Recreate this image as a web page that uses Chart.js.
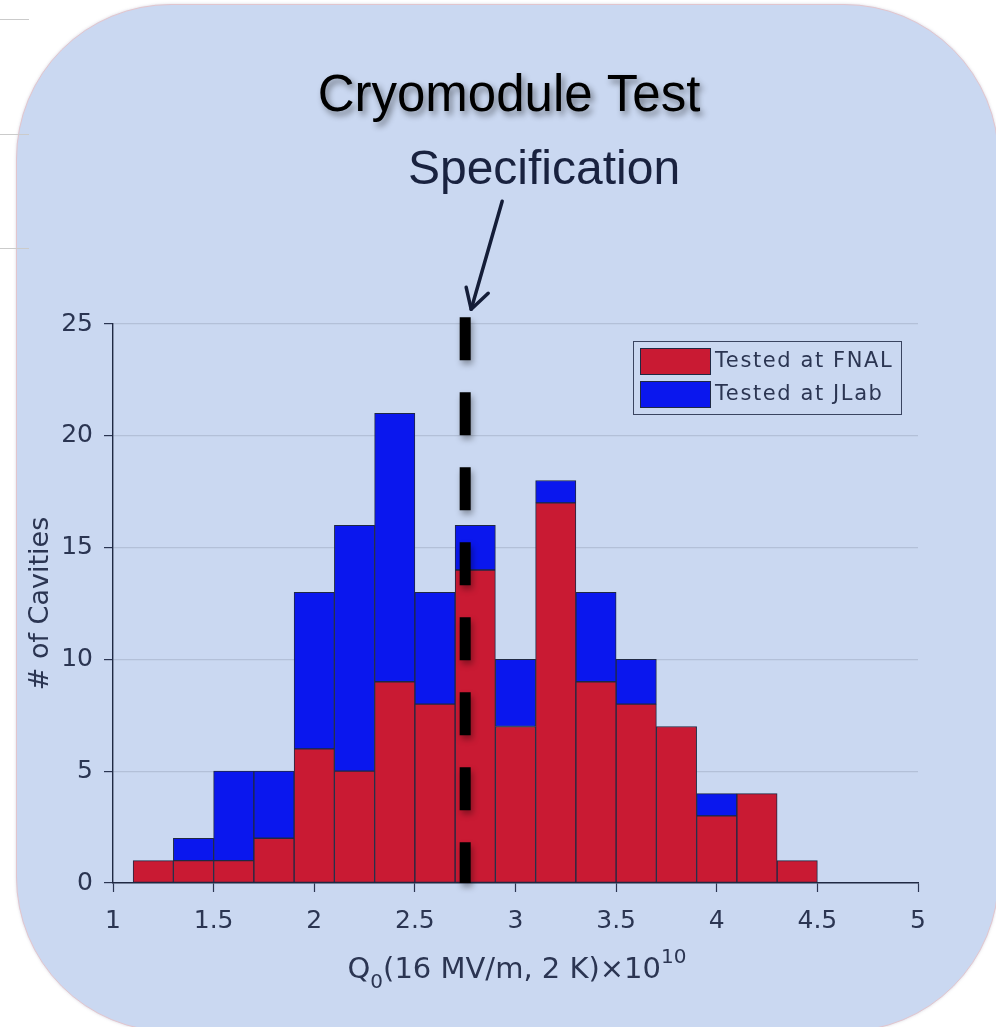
<!DOCTYPE html>
<html>
<head>
<meta charset="utf-8">
<script src="https://cdn.jsdelivr.net/npm/chart.js@4/dist/chart.umd.min.js"></script>
<style>
html,body{margin:0;padding:0;background:#ffffff;width:996px;height:1027px;overflow:hidden;}
#panel{position:absolute;left:16px;top:4px;width:981px;height:1026px;background:#cad8f1;border:1px solid #e2c5cd;border-radius:155px;box-shadow:0 0 3px rgba(140,140,170,0.35);}
.rule{position:absolute;left:0;width:29px;height:1px;background:#cbcbcb;}
#c{position:absolute;left:0;top:0;}
</style>
</head>
<body>
<div id="panel"></div>
<div class="rule" style="top:19px"></div>
<div class="rule" style="top:134px"></div>
<div class="rule" style="top:248px"></div>
<canvas id="c" width="996" height="1027"></canvas>
<script>
// ---- data ----
const binCenters = [1.2, 1.4, 1.6, 1.8, 2.0, 2.2, 2.4, 2.6, 2.8, 3.0, 3.2, 3.4, 3.6, 3.8, 4.0, 4.2, 4.4];
const fnalCounts = [1, 1, 1, 2, 6, 5, 9, 8, 14, 7, 17, 9, 8, 7, 3, 4, 1];
const jlabCounts = [0, 1, 4, 3, 7, 11, 12, 5, 2, 3, 1, 4, 2, 0, 1, 0, 0];
const xTickValues = [1, 1.5, 2, 2.5, 3, 3.5, 4, 4.5, 5];
const yTickValues = [0, 5, 10, 15, 20, 25];
const specValue = 2.75;
const specTop = 25.3;
const seriesLabels = ['Tested at FNAL', 'Tested at JLab'];
const titleText = 'Cryomodule Test';
const specText = 'Specification';
const yTitleText = '# of Cavities';

const RED = '#c91a33';
const BLUE = '#0a17ee';
const EDGE = '#1f2943';
const TXT = '#2b3552';
const FONT = '"DejaVu Sans", "Liberation Sans", sans-serif';

const decor = {
  id: 'decor',
  beforeDatasetDraw(chart, args) {
    if (args.meta.type === 'line') {
      const ctx = chart.ctx;
      ctx.save();
      ctx.shadowColor = 'rgba(0,0,0,0.35)';
      ctx.shadowBlur = 6;
      ctx.shadowOffsetX = 2;
      ctx.shadowOffsetY = 4;
    }
  },
  afterDatasetDraw(chart, args) {
    if (args.meta.type === 'line') chart.ctx.restore();
  },
  afterDraw(chart) {
    const ctx = chart.ctx;
    const xs = chart.scales.x, ys = chart.scales.y;
    const ca = chart.chartArea;

    // Title with shadow
    ctx.save();
    ctx.font = '51px "Liberation Sans", Arial, sans-serif';
    ctx.textAlign = 'center';
    ctx.textBaseline = 'alphabetic';
    ctx.shadowColor = 'rgba(0,0,0,0.45)';
    ctx.shadowBlur = 6;
    ctx.shadowOffsetX = 3;
    ctx.shadowOffsetY = 4;
    ctx.fillStyle = '#000';
    ctx.fillText(titleText, 509, 111);
    ctx.restore();

    // Specification label
    ctx.save();
    ctx.font = '48px "Liberation Sans", Arial, sans-serif';
    ctx.textAlign = 'center';
    ctx.fillStyle = '#19223f';
    ctx.fillText(specText, 544, 184);
    ctx.restore();

    // Arrow to the spec line
    const sx = xs.getPixelForValue(specValue);
    const tipY = ys.getPixelForValue(specTop) - 8;
    ctx.save();
    ctx.strokeStyle = '#141d38';
    ctx.lineWidth = 3.5;
    ctx.lineCap = 'round';
    ctx.lineJoin = 'round';
    ctx.beginPath();
    ctx.moveTo(sx + 37, tipY - 108);
    ctx.lineTo(sx + 6, tipY);
    ctx.stroke();
    ctx.beginPath();
    ctx.moveTo(sx + 1, tipY - 22);
    ctx.lineTo(sx + 6, tipY);
    ctx.lineTo(sx + 23, tipY - 16);
    ctx.stroke();
    ctx.restore();

    // Legend
    ctx.save();
    ctx.strokeStyle = '#3a4460';
    ctx.lineWidth = 1;
    ctx.strokeRect(633.5, 341.5, 268, 73);
    const bars = chart.data.datasets.filter(d => d.type !== 'line');
    bars.forEach((d, i) => {
      const y0 = 348 + i * 33;
      ctx.fillStyle = d.backgroundColor;
      ctx.fillRect(640, y0, 70, 26);
      ctx.strokeStyle = EDGE;
      ctx.strokeRect(640.5, y0 + 0.5, 70, 26);
      ctx.fillStyle = TXT;
      ctx.font = '21px ' + FONT;
      ctx.letterSpacing = '1.6px';
      ctx.textBaseline = 'middle';
      ctx.textAlign = 'left';
      ctx.fillText(d.label, 715, y0 + 14);
    });
    ctx.restore();

    // X axis title with sub/superscripts
    ctx.save();
    ctx.fillStyle = TXT;
    ctx.textBaseline = 'alphabetic';
    ctx.textAlign = 'left';
    const parts = [
      {t: 'Q', s: 29, dy: 0},
      {t: '0', s: 20, dy: 10},
      {t: '(16 MV/m, 2 K)', s: 29, dy: 0},
      {t: '\u00d7', s: 29, dy: 0},
      {t: '10', s: 29, dy: 0},
      {t: '10', s: 20, dy: -15}
    ];
    let total = 0;
    parts.forEach(p => { ctx.font = p.s + 'px ' + FONT; p.w = ctx.measureText(p.t).width; total += p.w; });
    let x = 517 - total / 2;
    const base = 978;
    parts.forEach(p => { ctx.font = p.s + 'px ' + FONT; ctx.fillText(p.t, x, base + p.dy); x += p.w; });
    ctx.restore();

    // Y axis title
    ctx.save();
    ctx.fillStyle = TXT;
    ctx.font = '27px ' + FONT;
    ctx.translate(41, (ca.top + ca.bottom) / 2);
    ctx.rotate(-Math.PI / 2);
    ctx.textAlign = 'center';
    ctx.textBaseline = 'middle';
    ctx.fillText(yTitleText, 0, 0);
    ctx.restore();
  }
};

new Chart(document.getElementById('c'), {
  type: 'bar',
  data: {
    datasets: [
      {
        label: seriesLabels[0],
        data: binCenters.map((x, i) => ({x: x, y: fnalCounts[i]})),
        backgroundColor: RED,
        borderColor: EDGE,
        borderWidth: 1,
        borderSkipped: false,
        barPercentage: 1,
        categoryPercentage: 1,
        order: 1
      },
      {
        label: seriesLabels[1],
        data: binCenters.map((x, i) => ({x: x, y: jlabCounts[i]})),
        backgroundColor: BLUE,
        borderColor: EDGE,
        borderWidth: 1,
        borderSkipped: false,
        barPercentage: 1,
        categoryPercentage: 1,
        order: 1
      },
      {
        type: 'line',
        label: 'spec',
        data: [{x: specValue, y: specTop}, {x: specValue, y: 0}],
        borderColor: '#000000',
        borderWidth: 11,
        borderDash: [43, 32],
        borderCapStyle: 'butt',
        pointRadius: 0,
        fill: false,
        tension: 0,
        clip: false,
        stack: 'spec',
        order: 0
      }
    ]
  },
  options: {
    responsive: false,
    animation: false,
    devicePixelRatio: 1,
    layout: {padding: {top: 324, right: 78, left: 0, bottom: 0}},
    plugins: {legend: {display: false}, tooltip: {enabled: false}},
    scales: {
      x: {
        type: 'linear',
        min: 1,
        max: 5,
        offset: false,
        stacked: true,
        afterBuildTicks: s => { s.ticks = xTickValues.map(v => ({value: v})); },
        afterFit: s => { s.height = 144; },
        ticks: {
          color: TXT,
          font: {family: 'DejaVu Sans', size: 25},
          padding: 14,
          maxRotation: 0,
          autoSkip: false,
          callback: v => String(v)
        },
        grid: {drawOnChartArea: false, offset: false, tickLength: 9, tickColor: TXT, tickWidth: 1.2},
        border: {color: EDGE, width: 1.4}
      },
      y: {
        min: 0,
        max: 25,
        stacked: true,
        afterBuildTicks: s => { s.ticks = yTickValues.map(v => ({value: v})); },
        afterFit: s => { s.width = 113; },
        ticks: {
          color: TXT,
          font: {family: 'DejaVu Sans', size: 25},
          padding: 11
        },
        grid: {
          color: c => (c.tick && c.tick.value === 0) ? 'rgba(0,0,0,0)' : '#b3c0d8',
          lineWidth: 1.2,
          tickLength: 9,
          tickColor: TXT,
          tickWidth: 1.2
        },
        border: {color: EDGE, width: 1.4}
      }
    }
  },
  plugins: [decor]
});
</script>
</body>
</html>
